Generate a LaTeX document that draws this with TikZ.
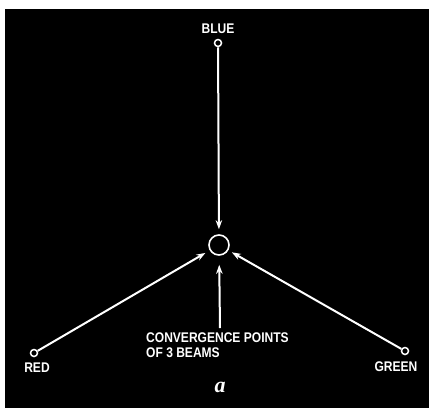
\documentclass[tikz,border=0pt]{standalone}
\usepackage{fontspec}
\setmainfont{Liberation Sans}[FakeStretch=0.86]
\newfontfamily\letterfont{Liberation Serif}
\usetikzlibrary{arrows.meta}
\begin{document}
\begin{tikzpicture}[x=1pt,y=-1pt,
  beam/.style={draw=white,line width=2pt,-{Stealth[length=9pt,width=6.5pt]}},
  dot/.style={circle,draw=white,line width=1.5pt,fill=black,minimum size=7pt,inner sep=0pt},
  lbl/.style={text=white,font=\bfseries\fontsize{14}{14}\selectfont,inner sep=0pt}]
\useasboundingbox (0,0) rectangle (429,408);
\fill[white] (0,0) rectangle (429,408);
\fill[black] (5,9) rectangle (429,408);
% convergence circle
\node[circle,draw=white,line width=1.6pt,minimum size=20pt,inner sep=0pt] (conv) at (219,245) {};
% gun dots
\node[dot] (blue) at (218,43) {};
\node[dot] (red) at (34,353) {};
\node[dot] (green) at (405,351) {};
% labels
\node[lbl] (bluelbl) at (218,29) {BLUE};
\node[lbl] (redlbl) at (37,368) {RED};
\node[lbl] (greenlbl) at (396,367) {GREEN};
\node[lbl,anchor=west] (convlbl) at (146,338) {CONVERGENCE POINTS};
\node[lbl,anchor=west] (beamslbl) at (146,353) {OF 3 BEAMS};
\node[text=white,inner sep=0pt,font=\letterfont\bfseries\itshape\fontsize{22}{22}\selectfont] (alabel) at (220,387) {a};
\coordinate (cstart) at (220,328);
% beams
\draw[beam,shorten >=5pt] (blue) -- (conv);
\draw[beam,shorten >=5pt] (red) -- (conv);
\draw[beam,shorten >=4pt] (green) -- (conv);
\draw[beam,shorten >=9pt] (cstart) -- (conv);
\end{tikzpicture}
\end{document}
